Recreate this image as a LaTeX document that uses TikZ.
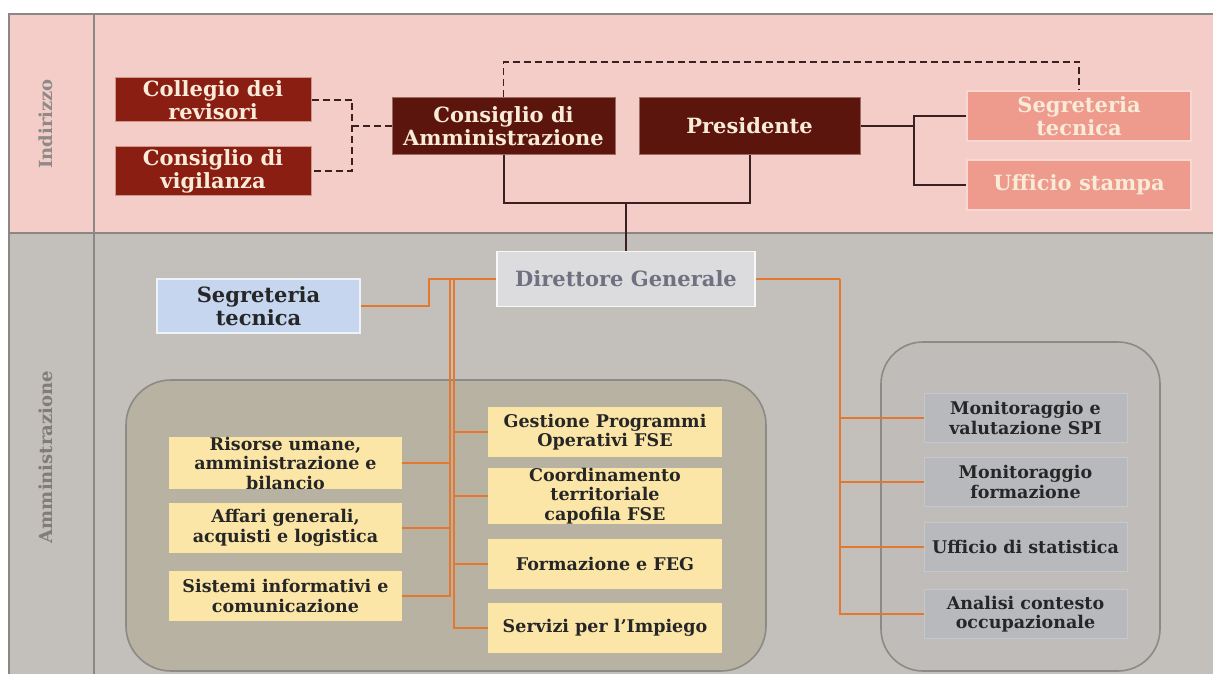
\documentclass[tikz,border=0pt]{standalone}
\usepackage{fontspec}
\setmainfont{DejaVu Serif}
\definecolor{pinkband}{HTML}{F5CDC8}
\definecolor{grayband}{HTML}{C3BFBB}
\definecolor{framecol}{HTML}{8A8785}
\definecolor{redbox}{HTML}{8B1E12}
\definecolor{darkbox}{HTML}{5B150D}
\definecolor{salmon}{HTML}{EE9A8D}
\definecolor{salmonline}{HTML}{F8D8D0}
\definecolor{cream}{HTML}{F8EBD8}
\definecolor{dgfill}{HTML}{DCDCDF}
\definecolor{dgtext}{HTML}{6F7080}
\definecolor{bluebox}{HTML}{C6D6EE}
\definecolor{yellowbox}{HTML}{FBE6A8}
\definecolor{graybox}{HTML}{B7B9BD}
\definecolor{leftcont}{HTML}{B8B2A2}
\definecolor{rightcont}{HTML}{C0BCB9}
\definecolor{contline}{HTML}{8C8A84}
\definecolor{orangeline}{HTML}{E4782E}
\definecolor{darkline}{HTML}{3A2020}
\definecolor{labelgray}{HTML}{8F8A88}
\tikzset{
  bigtext/.style={font=\bfseries\fontsize{21}{23}\selectfont, align=center},
  smalltext/.style={font=\bfseries\fontsize{17.5}{19.5}\selectfont, align=center},
  redstyle/.style={bigtext, fill=redbox, draw=cream!60!redbox, line width=1pt, text=cream, inner sep=0pt},
  darkstyle/.style={bigtext, fill=darkbox, draw=cream!40!darkbox, line width=1pt, text=cream, inner sep=0pt},
  salmonstyle/.style={bigtext, fill=salmon, draw=salmonline, line width=1.5pt, text=cream, inner sep=0pt},
  dgstyle/.style={bigtext, fill=dgfill, draw=white!80!dgfill, line width=1.5pt, text=dgtext, inner sep=0pt},
  bluestyle/.style={bigtext, fill=bluebox, draw=white!70!bluebox, line width=1.5pt, text=black!85, inner sep=0pt},
  yellowstyle/.style={smalltext, fill=yellowbox, text=black!85, inner sep=0pt, minimum height=50pt},
  graystyle/.style={smalltext, fill=graybox, draw=white!20!graybox, line width=1pt, text=black!85, inner sep=0pt, minimum width=203pt, minimum height=49pt},
  dashline/.style={draw=darkline, line width=1.6pt, dash pattern=on 7pt off 4pt},
  solidline/.style={draw=darkline, line width=2pt},
  orline/.style={draw=orangeline, line width=2pt},
  framel/.style={draw=framecol, line width=2pt},
  sidelabel/.style={font=\bfseries\fontsize{18}{23}\selectfont, text=labelgray, rotate=90}
}
\begin{document}
\begin{tikzpicture}[x=1pt,y=-1pt]
\useasboundingbox (0,0) rectangle (1213,674);
% bands
\fill[white] (0,0) rectangle (1213,674);
\fill[pinkband] (9,14) rectangle (1220,233);
\fill[grayband] (9,233) rectangle (1220,680);
\draw[framel] (1220,14) -- (9,14) -- (9,680);
\draw[framel] (9,233) -- (1220,233);
\draw[framel] (94,14) -- (94,680);
\node[sidelabel] (lind) at (46,124) {Indirizzo};
\node[sidelabel, text=labelgray!90!black] (lamm) at (46,457) {Amministrazione};
% containers
\draw[fill=leftcont, draw=contline, line width=1.6pt, rounded corners=45pt] (126,380) rectangle (766,671);
\draw[fill=rightcont, draw=contline, line width=1.6pt, rounded corners=42pt] (881,342) rectangle (1160,671);
% top nodes
\node[redstyle, minimum width=196pt, minimum height=44pt] (coll) at (213,100) {Collegio dei\\revisori};
\node[redstyle, minimum width=196pt, minimum height=49pt] (vig) at (213,171) {Consiglio di\\vigilanza};
\node[darkstyle, minimum width=223pt, minimum height=57pt] (cda) at (503.5,126) {Consiglio di\\Amministrazione};
\node[darkstyle, minimum width=221pt, minimum height=57pt] (pres) at (749.5,126) {Presidente};
\node[salmonstyle, minimum width=224pt, minimum height=50pt] (segtop) at (1079,116) {Segreteria\\tecnica};
\node[salmonstyle, minimum width=224pt, minimum height=50pt] (uff) at (1079,185) {Ufficio stampa};
% lower nodes
\node[dgstyle, minimum width=258pt, minimum height=55pt] (dg) at (626,279) {Direttore Generale};
\node[bluestyle, minimum width=203pt, minimum height=54pt] (segl) at (258.5,306) {Segreteria\\tecnica};
\node[yellowstyle, minimum width=233pt] (ris) at (285.5,463) {Risorse umane,\\amministrazione e\\bilancio};
\node[yellowstyle, minimum width=233pt] (aff) at (285.5,528) {Affari generali,\\acquisti e logistica};
\node[yellowstyle, minimum width=233pt] (sis) at (285.5,596) {Sistemi informativi e\\comunicazione};
\node[yellowstyle, minimum width=234pt] (ges) at (605,432) {Gestione Programmi\\Operativi FSE};
\node[yellowstyle, minimum width=234pt] (coo) at (605,496) {Coordinamento\\territoriale\\capofila FSE};
\node[yellowstyle, minimum width=234pt] (for) at (605,564) {Formazione e FEG};
\node[yellowstyle, minimum width=234pt] (ser) at (605,628) {Servizi per l’Impiego};
\node[graystyle] (m1) at (1025.5,418) {Monitoraggio e\\valutazione SPI};
\node[graystyle] (m2) at (1025.5,482) {Monitoraggio\\formazione};
\node[graystyle] (m3) at (1025.5,547) {Ufficio di statistica};
\node[graystyle] (m4) at (1025.5,614) {Analisi contesto\\occupazionale};
% junction coordinates
\coordinate (dj) at (352,126);
\coordinate (dtop) at (503.5,62);
\coordinate (pj) at (626,203);
\coordinate (pr) at (914,126);
\coordinate (oj) at (429,279);
\coordinate (t1) at (450,279);
\coordinate (t2) at (454,279);
\coordinate (r1) at (840,279);
% dashed connectors
\draw[dashline] (coll.east) -| (dj) |- (vig.east);
\draw[dashline] (dj) -- (cda.west);
\draw[dashline] (cda.north) |- (dtop) -| (segtop.north);
% solid connectors
\draw[solidline] (cda.south) |- (pj) -| (pres.south);
\draw[solidline] (pj) -- (dg.north);
\draw[solidline] (pres.east) -- (pr);
\draw[solidline] (segtop.west) -| (pr) |- (uff.west);
% orange connectors
\draw[orline] (segl.east) -| (oj) -- (dg.west);
\draw[orline] (t1) |- (ris.east);
\draw[orline] (t1) |- (aff.east);
\draw[orline] (t1) |- (sis.east);
\draw[orline] (t2) |- (ges.west);
\draw[orline] (t2) |- (coo.west);
\draw[orline] (t2) |- (for.west);
\draw[orline] (t2) |- (ser.west);
\draw[orline] (dg.east) -- (r1);
\draw[orline] (r1) |- (m1.west);
\draw[orline] (r1) |- (m2.west);
\draw[orline] (r1) |- (m3.west);
\draw[orline] (r1) |- (m4.west);
\end{tikzpicture}
\end{document}
